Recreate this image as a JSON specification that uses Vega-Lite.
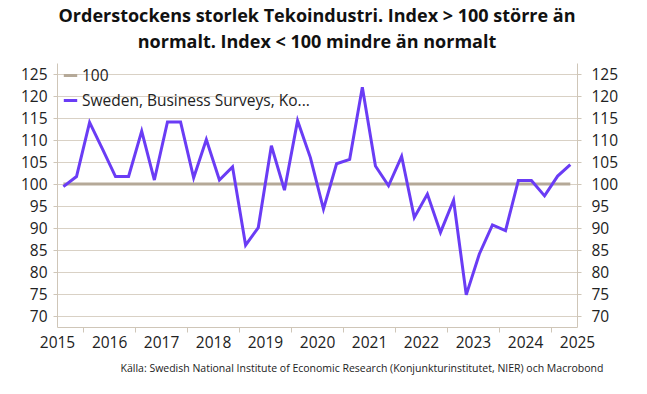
{
  "$schema": "https://vega.github.io/schema/vega-lite/v6.json",
  "width": 520,
  "height": 264,
  "autosize": {"type": "none"},
  "padding": {"left": 57, "top": 63, "right": 70, "bottom": 67},
  "background": "white",
  "config": {
    "view": {"stroke": null},
    "font": "Open Sans",
    "axis": {"labelFont": "Open Sans", "labelColor": "#222222", "labelFontSize": 15.5, "domainColor": "#cfc6b8", "tickColor": "#cfc6b8", "gridColor": "#d9d1c5"}
  },
  "title": {
    "text": ["Orderstockens storlek Tekoindustri. Index > 100 större än", "normalt. Index < 100 mindre än normalt"],
    "anchor": "middle",
    "frame": "group",
    "fontSize": 18,
    "fontWeight": "bold",
    "font": "Open Sans",
    "color": "#111111",
    "lineHeight": 26,
    "offset": 11
  },
  "data": {"values": [
    {"date": "2015-08-15", "ref": 100, "sweden": 99.4},
    {"date": "2015-11-15", "ref": 100, "sweden": 101.7},
    {"date": "2016-02-15", "ref": 100, "sweden": 114.0},
    {"date": "2016-05-15", "ref": 100, "sweden": 108.0},
    {"date": "2016-08-15", "ref": 100, "sweden": 101.7},
    {"date": "2016-11-15", "ref": 100, "sweden": 101.7},
    {"date": "2017-02-15", "ref": 100, "sweden": 112.0},
    {"date": "2017-05-15", "ref": 100, "sweden": 100.9},
    {"date": "2017-08-15", "ref": 100, "sweden": 114.1},
    {"date": "2017-11-15", "ref": 100, "sweden": 114.1},
    {"date": "2018-02-15", "ref": 100, "sweden": 101.4},
    {"date": "2018-05-15", "ref": 100, "sweden": 110.1},
    {"date": "2018-08-15", "ref": 100, "sweden": 100.9},
    {"date": "2018-11-15", "ref": 100, "sweden": 103.9},
    {"date": "2019-02-15", "ref": 100, "sweden": 86.1},
    {"date": "2019-05-15", "ref": 100, "sweden": 90.1},
    {"date": "2019-08-15", "ref": 100, "sweden": 108.7},
    {"date": "2019-11-15", "ref": 100, "sweden": 98.6},
    {"date": "2020-02-15", "ref": 100, "sweden": 114.4},
    {"date": "2020-05-15", "ref": 100, "sweden": 106.0},
    {"date": "2020-08-15", "ref": 100, "sweden": 94.3},
    {"date": "2020-11-15", "ref": 100, "sweden": 104.6},
    {"date": "2021-02-15", "ref": 100, "sweden": 105.6},
    {"date": "2021-05-15", "ref": 100, "sweden": 122.0},
    {"date": "2021-08-15", "ref": 100, "sweden": 104.1},
    {"date": "2021-11-15", "ref": 100, "sweden": 99.6},
    {"date": "2022-02-15", "ref": 100, "sweden": 106.3},
    {"date": "2022-05-15", "ref": 100, "sweden": 92.4},
    {"date": "2022-08-15", "ref": 100, "sweden": 97.7},
    {"date": "2022-11-15", "ref": 100, "sweden": 89.0},
    {"date": "2023-02-15", "ref": 100, "sweden": 96.3},
    {"date": "2023-05-15", "ref": 100, "sweden": 74.8},
    {"date": "2023-08-15", "ref": 100, "sweden": 84.1},
    {"date": "2023-11-15", "ref": 100, "sweden": 90.7},
    {"date": "2024-02-15", "ref": 100, "sweden": 89.4},
    {"date": "2024-05-15", "ref": 100, "sweden": 100.8},
    {"date": "2024-08-15", "ref": 100, "sweden": 100.8},
    {"date": "2024-11-15", "ref": 100, "sweden": 97.3},
    {"date": "2025-02-15", "ref": 100, "sweden": 101.8},
    {"date": "2025-05-15", "ref": 100, "sweden": 104.4}
  ]},
  "transform": [{"fold": ["ref", "sweden"], "as": ["series", "value"]}],
  "resolve": {"axis": {"x": "independent", "y": "independent"}},
  "layer": [
    {
      "mark": {"type": "line", "strokeWidth": 3, "strokeJoin": "miter"},
      "encoding": {
        "x": {
          "field": "date", "type": "temporal",
          "scale": {"domain": [{"year": 2015, "month": 7, "date": 1}, {"year": 2025, "month": 7, "date": 1}]},
          "axis": {
            "orient": "bottom", "title": null, "labels": false, "grid": false, "tickSize": 5, "domain": true,
            "values": [{"year": 2016, "month": 1, "date": 1}, {"year": 2017, "month": 1, "date": 1}, {"year": 2018, "month": 1, "date": 1}, {"year": 2019, "month": 1, "date": 1}, {"year": 2020, "month": 1, "date": 1}, {"year": 2021, "month": 1, "date": 1}, {"year": 2022, "month": 1, "date": 1}, {"year": 2023, "month": 1, "date": 1}, {"year": 2024, "month": 1, "date": 1}, {"year": 2025, "month": 1, "date": 1}]
          }
        },
        "y": {
          "field": "value", "type": "quantitative",
          "scale": {"domain": [67.5, 127.5], "nice": false, "zero": false},
          "axis": {"orient": "left", "title": null, "values": [70, 75, 80, 85, 90, 95, 100, 105, 110, 115, 120, 125], "grid": true, "tickSize": 4, "labelPadding": 6}
        },
        "color": {
          "field": "series", "type": "nominal",
          "scale": {"domain": ["ref", "sweden"], "range": ["#b5a998", "#6a3cf5"]},
          "legend": {
            "title": null, "orient": "none", "legendX": 5, "legendY": 4,
            "symbolType": "stroke", "symbolStrokeWidth": 3, "symbolSize": 180,
            "labelFontSize": 15.5, "labelFont": "Open Sans", "labelColor": "#222222", "labelOffset": 3, "rowPadding": 8, "labelLimit": 400,
            "labelExpr": "datum.value == 'ref' ? '100' : 'Sweden, Business Surveys, Ko...'"
          }
        }
      }
    },
    {
      "mark": {"type": "line", "opacity": 0},
      "encoding": {
        "x": {
          "field": "date", "type": "temporal",
          "axis": {
            "orient": "bottom", "grid": false, "ticks": false, "domain": false, "format": "%Y", "labelPadding": 8, "labelFlush": false, "labelOverlap": false,
            "values": [{"year": 2015, "month": 7, "date": 1}, {"year": 2016, "month": 7, "date": 1}, {"year": 2017, "month": 7, "date": 1}, {"year": 2018, "month": 7, "date": 1}, {"year": 2019, "month": 7, "date": 1}, {"year": 2020, "month": 7, "date": 1}, {"year": 2021, "month": 7, "date": 1}, {"year": 2022, "month": 7, "date": 1}, {"year": 2023, "month": 7, "date": 1}, {"year": 2024, "month": 7, "date": 1}, {"year": 2025, "month": 7, "date": 1}],
            "title": "Källa: Swedish National Institute of Economic Research (Konjunkturinstitutet, NIER)  och Macrobond",
            "titleFontSize": 10.5, "titleFontWeight": "normal", "titleFont": "Open Sans", "titleColor": "#222222",
            "titleAnchor": "start", "titleAlign": "left", "titleBaseline": "middle", "titleX": 63, "titleY": 41
          }
        },
        "y": {
          "field": "value", "type": "quantitative",
          "axis": {"orient": "right", "title": null, "values": [70, 75, 80, 85, 90, 95, 100, 105, 110, 115, 120, 125], "grid": false, "tickSize": 4, "labelPadding": 10}
        }
      }
    }
  ]
}
